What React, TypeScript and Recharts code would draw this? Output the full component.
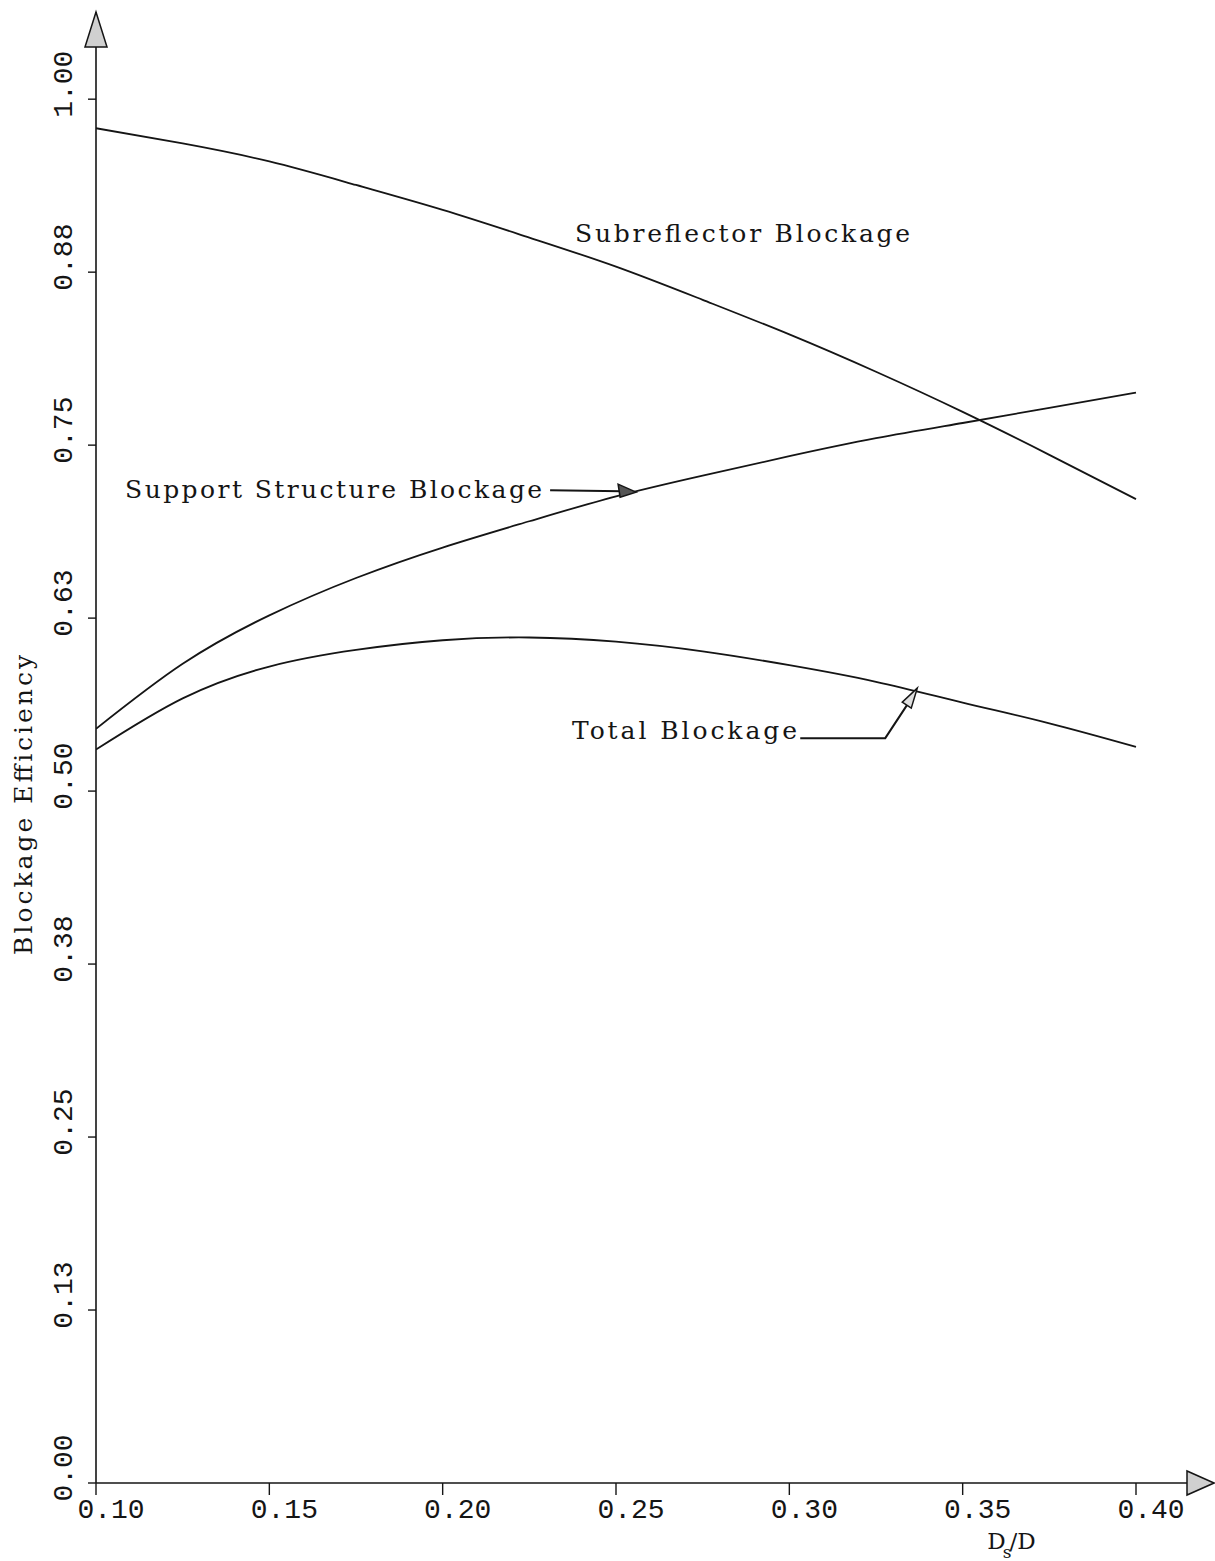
import { LineChart, Line, XAxis, YAxis, ReferenceDot } from "recharts";

// D_s/D values at which the curves were read
const DS = [0.1, 0.125, 0.15, 0.175, 0.2, 0.225, 0.25, 0.275, 0.3, 0.325, 0.35, 0.375, 0.4];
const SUBREFLECTOR = [0.979, 0.968, 0.955, 0.938, 0.92, 0.9, 0.879, 0.855, 0.83, 0.803, 0.774, 0.743, 0.711];
const SUPPORT = [0.545, 0.592, 0.627, 0.654, 0.676, 0.695, 0.713, 0.728, 0.742, 0.755, 0.766, 0.777, 0.788];
const TOTAL = [0.53, 0.567, 0.59, 0.602, 0.609, 0.611, 0.608, 0.601, 0.591, 0.579, 0.564, 0.549, 0.532];

const X_TICKS = [0.1, 0.15, 0.2, 0.25, 0.3, 0.35, 0.4];
const Y_TICKS = [0, 0.125, 0.25, 0.375, 0.5, 0.625, 0.75, 0.875, 1.0];

const data = DS.map((ds, i) => ({
  ds,
  sub: SUBREFLECTOR[i],
  sup: SUPPORT[i],
  tot: TOTAL[i],
}));

const INK = "#151515";
const TICK_FONT = "'Liberation Mono', monospace";
const LABEL_FONT = "'DejaVu Serif', serif";

function YTick(props: any) {
  const { x, y, payload } = props;
  return (
    <text
      transform={`translate(${x},${y - 15}) rotate(-90)`}
      textAnchor="middle"
      fontFamily={TICK_FONT}
      fontSize={28}
      fill={INK}
    >
      {Number(payload.value).toFixed(2)}
    </text>
  );
}

function XTick(props: any) {
  const { x, y, payload } = props;
  return (
    <text
      x={x + 15}
      y={y + 21}
      textAnchor="middle"
      fontFamily={TICK_FONT}
      fontSize={28}
      fill={INK}
    >
      {Number(payload.value).toFixed(2)}
    </text>
  );
}

const textShape = (value: string, len: number) => (p: any) => (
  <text
    x={p.cx}
    y={p.cy}
    fontFamily={LABEL_FONT}
    fontSize={25}
    fill={INK}
    textLength={len}
    lengthAdjust="spacing"
  >
    {value}
  </text>
);

const upArrow = (p: any) => (
  <polygon
    points={`${p.cx},${p.cy} ${p.cx - 11},${p.cy + 35} ${p.cx + 11},${p.cy + 35}`}
    fill="#d0d0d0"
    stroke={INK}
    strokeWidth={1.5}
  />
);

const rightArrow = (p: any) => (
  <polygon
    points={`${p.cx},${p.cy} ${p.cx - 27},${p.cy - 12} ${p.cx - 27},${p.cy + 12}`}
    fill="#d0d0d0"
    stroke={INK}
    strokeWidth={1.5}
  />
);

const supportPointer = (p: any) => (
  <g>
    <line x1={p.cx - 86} y1={p.cy - 2} x2={p.cx - 14} y2={p.cy - 1} stroke={INK} strokeWidth={2} />
    <polygon
      points={`${p.cx},${p.cy} ${p.cx - 18},${p.cy - 8} ${p.cx - 16},${p.cy + 5}`}
      fill="#555"
      stroke={INK}
      strokeWidth={1.5}
    />
  </g>
);

const totalPointer = (p: any) => (
  <g>
    <polyline
      points={`${p.cx - 117},${p.cy + 50} ${p.cx - 32},${p.cy + 50} ${p.cx - 7},${p.cy + 12}`}
      fill="none"
      stroke={INK}
      strokeWidth={2}
    />
    <polygon
      points={`${p.cx},${p.cy} ${p.cx - 15},${p.cy + 14} ${p.cx - 6},${p.cy + 20}`}
      fill="#e0e0e0"
      stroke={INK}
      strokeWidth={1.5}
    />
  </g>
);

const axisTitle = (p: any) => (
  <text
    transform={`translate(${p.cx - 64},${p.cy}) rotate(-90)`}
    textAnchor="middle"
    fontFamily={LABEL_FONT}
    fontSize={25}
    fill={INK}
    textLength={300}
    lengthAdjust="spacing"
  >
    Blockage Efficiency
  </text>
);

const dsLabel = (p: any) => (
  <text x={p.cx} y={p.cy} fontFamily={LABEL_FONT} fontSize={23} fill={INK}>
    D
    <tspan dx={-3} dy={9} fontSize={17}>
      s
    </tspan>
    <tspan dx={-2} dy={-9}>
      /D
    </tspan>
  </text>
);

export default function App() {
  return (
    <div style={{ position: "absolute", left: 0, top: 0, background: "#fff" }}>
      <style>{`body{margin:0;background:#fff}`}</style>
      <LineChart
        width={1215}
        height={1561}
        data={data}
        margin={{ top: 12, right: 1, bottom: 28, left: 36 }}
      >
        <XAxis
          type="number"
          dataKey="ds"
          domain={[0.1, 0.4225]}
          allowDataOverflow
          ticks={X_TICKS}
          height={50}
          tickSize={12}
          tickMargin={2}
          tick={<XTick />}
          axisLine={{ stroke: INK, strokeWidth: 1.6 }}
          tickLine={{ stroke: INK, strokeWidth: 1.4 }}
        />
        <YAxis
          type="number"
          domain={[0, 1.063]}
          allowDataOverflow
          ticks={Y_TICKS}
          width={60}
          tickSize={8}
          tickMargin={16}
          tick={<YTick />}
          axisLine={{ stroke: INK, strokeWidth: 1.6 }}
          tickLine={{ stroke: INK, strokeWidth: 1.4 }}
        />
        <Line type="natural" dataKey="sub" stroke={INK} strokeWidth={1.8} dot={false} isAnimationActive={false} />
        <Line type="natural" dataKey="sup" stroke={INK} strokeWidth={1.8} dot={false} isAnimationActive={false} />
        <Line type="natural" dataKey="tot" stroke={INK} strokeWidth={1.8} dot={false} isAnimationActive={false} />

        <ReferenceDot x={0.1} y={1.063} r={0} ifOverflow="visible" shape={upArrow} />
        <ReferenceDot x={0.4225} y={0} r={0} ifOverflow="visible" shape={rightArrow} />

        <ReferenceDot x={0.2382} y={0.897} r={0} ifOverflow="visible" shape={textShape("Subreflector Blockage", 335)} />
        <ReferenceDot x={0.1084} y={0.712} r={0} ifOverflow="visible" shape={textShape("Support Structure Blockage", 417)} />
        <ReferenceDot x={0.2373} y={0.5376} r={0} ifOverflow="visible" shape={textShape("Total Blockage", 225)} />
        <ReferenceDot x={0.2558} y={0.716} r={0} ifOverflow="visible" shape={supportPointer} />
        <ReferenceDot x={0.3369} y={0.5744} r={0} ifOverflow="visible" shape={totalPointer} />

        <ReferenceDot x={0.1} y={0.49} r={0} ifOverflow="visible" shape={axisTitle} />
        <ReferenceDot x={0.3571} y={-0.0475} r={0} ifOverflow="visible" shape={dsLabel} />
      </LineChart>
    </div>
  );
}
